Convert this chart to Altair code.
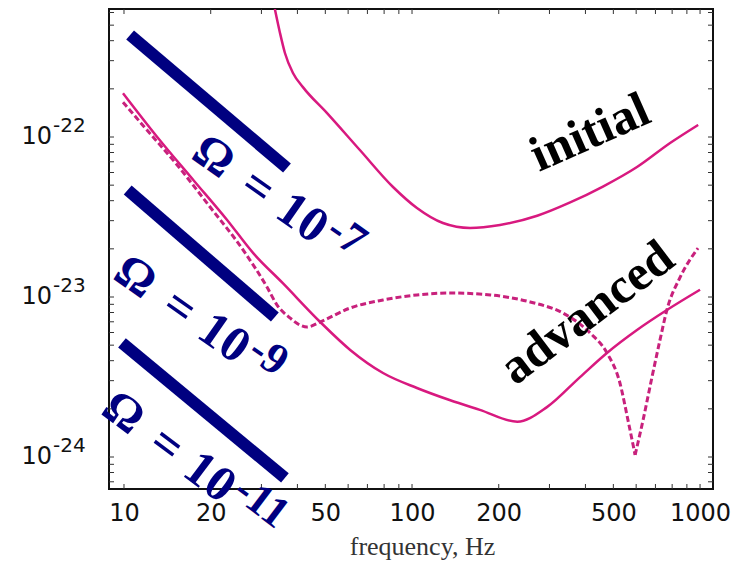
import altair as alt
import pandas as pd

# Strain sensitivity curves (frequency in Hz, strain per root Hz)
FREQ_INITIAL = [33.4, 34.8, 36.2, 38.6, 41.8, 50.7, 65.9, 85.9, 104, 128, 159, 202, 272, 354,
                460, 604, 787, 985]
H_INITIAL = [6.31e-22, 4.47e-22, 3.35e-22, 2.51e-22, 2.05e-22, 1.41e-22, 8.29e-23, 4.87e-23,
             3.60e-23, 2.90e-23, 2.70e-23, 2.82e-23, 3.22e-23, 3.90e-23, 4.90e-23, 6.49e-23,
             9.17e-23, 1.19e-22]

FREQ_ADV = [9.92, 13.3, 17.4, 22.8, 28.1, 35.6, 48.0, 61.0, 79.3, 104, 135, 172, 232, 294,
            383, 475, 604, 767, 1000]
H_ADV = [1.88e-22, 9.58e-23, 5.39e-23, 3.03e-23, 1.88e-23, 1.22e-23, 6.98e-24, 4.67e-24,
         3.35e-24, 2.70e-24, 2.27e-24, 1.97e-24, 1.66e-24, 2.05e-24, 3.16e-24, 4.47e-24,
         6.22e-24, 8.29e-24, 1.11e-23]

# narrow-band tuning: falls to a notch near 600 Hz
FREQ_NB_LEFT = [9.92, 11.6, 15.3, 19.9, 25.9, 31.4, 34.0, 37.7, 40.8, 43.2, 48.0, 61.0, 79.3,
                104, 135, 187, 257, 334, 415, 475, 527, 562, 595]
H_NB_LEFT = [1.65e-22, 1.19e-22, 6.68e-23, 3.65e-23, 1.97e-23, 1.15e-23, 8.91e-24, 7.40e-24,
             6.68e-24, 6.49e-24, 6.98e-24, 8.54e-24, 9.58e-24, 1.03e-23, 1.06e-23, 1.03e-23,
             9.31e-24, 7.94e-24, 5.96e-24, 4.47e-24, 2.90e-24, 1.70e-24, 1.03e-24]
FREQ_NB_RIGHT = [595, 634, 681, 726, 767, 853, 984]
H_NB_RIGHT = [1.03e-24, 1.70e-24, 3.16e-24, 5.39e-24, 8.29e-24, 1.33e-23, 2.02e-23]

# Stochastic background levels: start/end of each straight segment
OMEGA_NAMES = ["1e-7", "1e-9", "1e-11"]
OMEGA_F0 = [10.5, 10.3, 9.84]
OMEGA_H0 = [4.34e-22, 4.66e-23, 5.16e-24]
OMEGA_F1 = [36.8, 33.4, 36.2]
OMEGA_H1 = [6.4e-23, 7.5e-24, 7.4e-25]

# Omega annotations (anchored at the centre of the Ω glyph)
OMEGA_LABEL_F = [20.4, 10.92, 9.92]
OMEGA_LABEL_H = [7.5e-23, 1.33e-23, 1.88e-24]
OMEGA_LABEL_ANGLE = [35, 35, 37]
OMEGA_LABEL_EXP = ["-7", "-9", "-11"]

CURVE_LABELS = ["initial", "advanced"]
CURVE_LABEL_F = [415, 406]
CURVE_LABEL_H = [1.06e-22, 7.94e-24]

X_LABELS = [10, 20, 50, 100, 200, 500, 1000]
Y_MAJOR = [1e-22, 1e-23, 1e-24]
Y_BASE = ["10", "10", "10"]
Y_EXP = ["-22", "-23", "-24"]

X_MINOR = [m * 10 ** d for d in (1, 2) for m in range(1, 10)] + [1000]
Y_MINOR = [m * 10.0 ** e for e in (-25, -24, -23, -22) for m in range(1, 10)]
Y_MINOR = [v for v in Y_MINOR if 6.4e-25 <= v <= 6.3e-22]

PINK = "#d8197f"
PINK_DASH = "#c8217c"
NAVY = "#000080"

W, H = 604, 480

xs = alt.Scale(type="log", domain=[8.87, 1109], nice=False)
ys = alt.Scale(type="log", domain=[6.31e-25, 6.31e-22], nice=False)

x_axis = alt.Axis(values=X_LABELS, format="d", labelFont="DejaVu Sans", labelFontSize=24,
                  labelColor="#111111", labelFlush=False, ticks=False, domain=False, grid=False,
                  labelPadding=12, title="frequency, Hz", titleFont="Liberation Serif",
                  titleFontSize=26, titleFontWeight="normal", titleColor="#333333",
                  titleX=313, titleY=65, titleBaseline="alphabetic")

initial = pd.DataFrame({"f": FREQ_INITIAL, "h": H_INITIAL})
adv = pd.DataFrame({"f": FREQ_ADV, "h": H_ADV})
nb = pd.concat([
    pd.DataFrame({"f": FREQ_NB_LEFT, "h": H_NB_LEFT, "seg": "left"}),
    pd.DataFrame({"f": FREQ_NB_RIGHT, "h": H_NB_RIGHT, "seg": "right"}),
])
omega = pd.DataFrame({
    "name": OMEGA_NAMES * 2,
    "f": OMEGA_F0 + OMEGA_F1,
    "h": OMEGA_H0 + OMEGA_H1,
})
omega_lab = pd.DataFrame({"f": OMEGA_LABEL_F, "h": OMEGA_LABEL_H, "ang": OMEGA_LABEL_ANGLE,
                          "exp": OMEGA_LABEL_EXP})
ylab = pd.DataFrame({"h": Y_MAJOR, "base": Y_BASE, "exp": Y_EXP})
lab_initial = pd.DataFrame({"f": [CURVE_LABEL_F[0]], "h": [CURVE_LABEL_H[0]], "t": [CURVE_LABELS[0]]})
lab_adv = pd.DataFrame({"f": [CURVE_LABEL_F[1]], "h": [CURVE_LABEL_H[1]], "t": [CURVE_LABELS[1]]})

X = alt.X("f:Q", scale=xs, axis=x_axis)
Y = alt.Y("h:Q", scale=ys, axis=None)

line_initial = alt.Chart(initial).mark_line(
    color=PINK, strokeWidth=2.5, interpolate="monotone", clip=True
).encode(x=X, y=Y)

line_adv = alt.Chart(adv).mark_line(
    color=PINK, strokeWidth=2.5, interpolate="monotone", clip=True
).encode(x=X, y=Y)

line_nb = alt.Chart(nb).mark_line(
    color=PINK_DASH, strokeWidth=3, strokeDash=[6, 3], interpolate="monotone", clip=True
).encode(x=X, y=Y, detail="seg:N")

omega_lines = alt.Chart(omega).mark_line(
    color=NAVY, strokeWidth=12, strokeCap="butt"
).encode(x=X, y=Y, detail="name:N")


def omega_piece(text_enc, size, dx, dy=0, align="center"):
    return alt.Chart(omega_lab).mark_text(
        align=align, baseline="middle", font="Liberation Serif", fontWeight="bold",
        fontSize=size, color=NAVY, dx=dx, dy=dy
    ).encode(x=X, y=Y, angle=alt.Angle("ang:Q", scale=None), text=text_enc)


omega_sym = omega_piece(alt.value("Ω"), 48, 0)
omega_eq = omega_piece(alt.value("="), 50, 54)
omega_ten = omega_piece(alt.value("10"), 50, 108, -1)
omega_exp = omega_piece(alt.Text("exp:N"), 44, 136, -12, align="left")

text_initial = alt.Chart(lab_initial).mark_text(
    angle=336, align="center", baseline="middle", font="Liberation Serif", fontWeight="bold",
    fontSize=50, color="black"
).encode(x=X, y=Y, text="t:N")

text_adv = alt.Chart(lab_adv).mark_text(
    angle=323, align="center", baseline="middle", font="Liberation Serif", fontWeight="bold",
    fontSize=50, color="black"
).encode(x=X, y=Y, text="t:N")

# y tick labels drawn as base and raised exponent
ytext_base = alt.Chart(ylab).mark_text(
    align="right", baseline="middle", font="DejaVu Sans", fontSize=24, color="#111111"
).encode(x=alt.value(-57), y=Y, text="base:N")

ytext_exp = alt.Chart(ylab).mark_text(
    align="left", baseline="middle", font="DejaVu Sans", fontSize=20, color="#111111", dy=-11
).encode(x=alt.value(-56), y=Y, text="exp:N")

# inward tick marks on all four sides
xt = pd.DataFrame({"f": X_MINOR})
yt = pd.DataFrame({"h": Y_MINOR})

tick_style = dict(color="#333333", strokeWidth=1)
tick_bottom = alt.Chart(xt).mark_rule(**tick_style).encode(x=X, y=alt.value(H), y2=alt.value(H - 5))
tick_top = alt.Chart(xt).mark_rule(**tick_style).encode(x=X, y=alt.value(0), y2=alt.value(5))
tick_left = alt.Chart(yt).mark_rule(**tick_style).encode(y=Y, x=alt.value(0), x2=alt.value(5))
tick_right = alt.Chart(yt).mark_rule(**tick_style).encode(y=Y, x=alt.value(W), x2=alt.value(W - 5))

chart = alt.layer(
    line_initial, tick_bottom, tick_top, tick_left, tick_right, line_adv, line_nb,
    omega_lines, omega_sym, omega_eq, omega_ten, omega_exp, text_initial, text_adv,
    ytext_base, ytext_exp
).properties(
    width=W, height=H,
    autosize=alt.AutoSizeParams(type="none"),
    padding={"left": 109, "top": 9, "right": 34, "bottom": 87},
    background="white",
).configure_view(
    stroke="#111111", strokeWidth=2
)

chart.save("out.html", embed_options={"renderer": "svg", "actions": False})
